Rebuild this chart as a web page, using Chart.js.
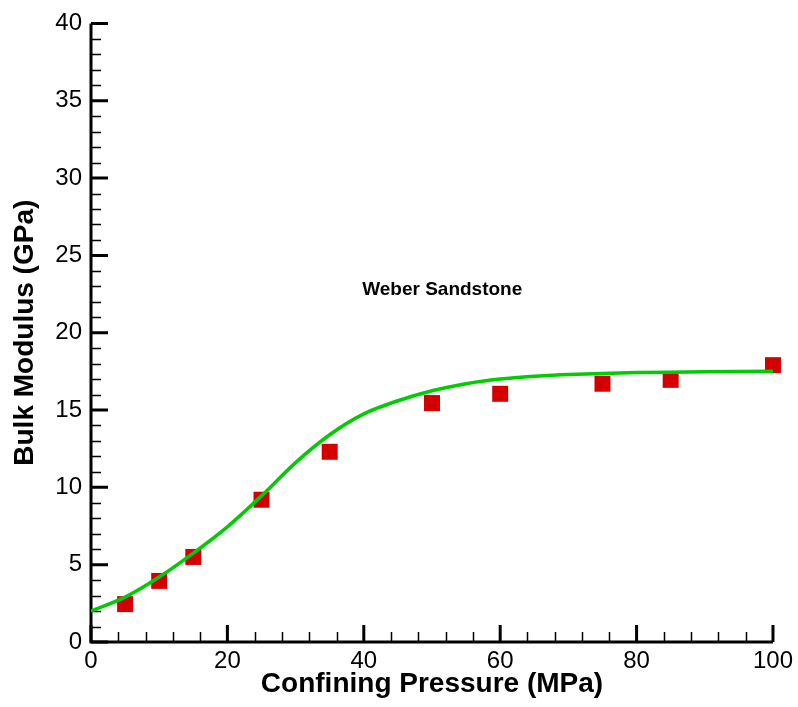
<!DOCTYPE html>
<html>
<head>
<meta charset="utf-8">
<script src="https://cdn.jsdelivr.net/npm/chart.js@4.4.0/dist/chart.umd.min.js"></script>
<style>
    html, body { margin: 0; padding: 0; background: #fff; }
    #wrap { width: 798px; height: 707px; }
</style>
</head>
<body>
<div id="wrap"><canvas id="mycanvas" width="798" height="707"></canvas></div>
<script>
// measured points (red squares)
var pressure = [5, 10, 15, 25, 35, 50, 60, 75, 85, 100];
var modulus = [2.45, 3.95, 5.5, 9.2, 12.3, 15.45, 16.05, 16.7, 16.95, 17.9];

// fitted curve (green line)
var fitPressure = [0, 5, 10, 15, 20, 25, 30, 35, 40, 45, 50, 55, 60, 65, 70, 80, 90, 100];
var fitModulus = [2.0, 2.9, 4.2, 5.75, 7.45, 9.45, 11.6, 13.4, 14.75, 15.6, 16.25, 16.7, 17.0, 17.18, 17.3, 17.42, 17.47, 17.5];

// axes
var xMin = 0, xMax = 100, xStep = 20, xMinor = 4;
var yMin = 0, yMax = 40, yStep = 5, yMinor = 1;

var labelText = 'Weber Sandstone';
var labelAt = { x: 51.5, y: 22.8 };

function toPoints(xs, ys) {
    var pts = [];
    for (var i in xs) {
        pts.push({ x: xs[i], y: ys[i] });
    }
    return pts;
}

// ticks point inward, so draw them ourselves from the scales
var axisPlugin = {
    id: 'axisPlugin',
    beforeDatasetsDraw: function(chart) {
        var ctx = chart.ctx;
        var a = chart.chartArea;
        var xs = chart.scales.x, ys = chart.scales.y;
        ctx.save();
        ctx.strokeStyle = '#000';

        // minor ticks
        ctx.lineWidth = 1.5;
        ctx.beginPath();
        for (var v = xMin; v <= xMax; v += xMinor) {
            if (v % xStep === 0) continue;
            var px = Math.round(xs.getPixelForValue(v)) + 0.5;
            ctx.moveTo(px, a.bottom);
            ctx.lineTo(px, a.bottom - 10);
        }
        for (var w = yMin; w <= yMax; w += yMinor) {
            if (w % yStep === 0) continue;
            var py = Math.round(ys.getPixelForValue(w)) + 0.5;
            ctx.moveTo(a.left, py);
            ctx.lineTo(a.left + 10, py);
        }
        ctx.stroke();

        // major ticks
        ctx.lineWidth = 3;
        ctx.beginPath();
        for (var v2 = xMin; v2 <= xMax; v2 += xStep) {
            var px2 = xs.getPixelForValue(v2);
            ctx.moveTo(px2, a.bottom);
            ctx.lineTo(px2, a.bottom - 17);
        }
        for (var w2 = yMin; w2 <= yMax; w2 += yStep) {
            var py2 = ys.getPixelForValue(w2);
            ctx.moveTo(a.left, py2);
            ctx.lineTo(a.left + 17, py2);
        }
        ctx.stroke();

        // axis lines
        ctx.lineWidth = 3;
        ctx.beginPath();
        ctx.moveTo(a.left, a.top);
        ctx.lineTo(a.left, a.bottom);
        ctx.lineTo(a.right, a.bottom);
        ctx.stroke();

        // text label
        ctx.fillStyle = '#000';
        ctx.font = 'bold 19px "Liberation Sans", Arial, sans-serif';
        ctx.textAlign = 'center';
        ctx.textBaseline = 'middle';
        ctx.fillText(labelText, xs.getPixelForValue(labelAt.x), ys.getPixelForValue(labelAt.y));
        ctx.restore();
    }
};

var tickFont = { family: '"Liberation Sans", Arial, sans-serif', size: 24 };
var titleFont = { family: '"Liberation Sans", Arial, sans-serif', size: 28, weight: 'bold' };

var ctx1 = document.getElementById('mycanvas');
var chart = new Chart(ctx1, {
    type: 'scatter',
    data: {
        datasets: [
            {
                label: 'Fit',
                data: toPoints(fitPressure, fitModulus),
                showLine: true,
                borderColor: '#00cc00',
                borderWidth: 3.5,
                pointRadius: 0,
                tension: 0.3,
                fill: false
            },
            {
                label: 'Measured',
                data: toPoints(pressure, modulus),
                showLine: false,
                clip: false,
                pointStyle: 'rect',
                pointRadius: 11.3,
                pointHoverRadius: 11.3,
                backgroundColor: '#d40000',
                borderColor: '#d40000',
                borderWidth: 0
            }
        ]
    },
    options: {
        responsive: false,
        animation: false,
        devicePixelRatio: 1,
        layout: { padding: { left: 0, right: 25, top: 18, bottom: 0 } },
        plugins: {
            legend: { display: false },
            tooltip: { enabled: false }
        },
        scales: {
            x: {
                type: 'linear',
                min: xMin,
                max: xMax,
                grid: { display: false, drawTicks: false },
                border: { display: false },
                ticks: { stepSize: xStep, color: '#000', font: tickFont, padding: 5, maxRotation: 0 },
                title: {
                    display: true,
                    text: 'Confining Pressure (MPa)',
                    color: '#000',
                    font: titleFont,
                    padding: { top: 0, bottom: 6 }
                },
                afterFit: function(scale) { scale.height = 65; }
            },
            y: {
                type: 'linear',
                min: yMin,
                max: yMax,
                grid: { display: false, drawTicks: false },
                border: { display: false },
                ticks: { stepSize: yStep, color: '#000', font: tickFont, padding: 9 },
                title: {
                    display: true,
                    text: 'Bulk Modulus (GPa)',
                    color: '#000',
                    font: titleFont,
                    padding: { top: 8, bottom: 0 }
                },
                afterFit: function(scale) { scale.width = 91; }
            }
        }
    },
    plugins: [axisPlugin]
});
</script>
</body>
</html>
